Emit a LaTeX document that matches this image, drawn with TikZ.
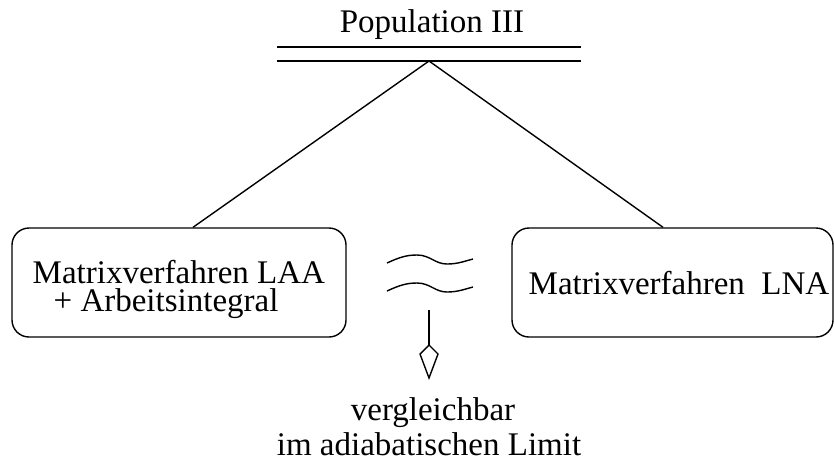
\documentclass[tikz,border=0pt]{standalone}
\usepackage{fontspec}
\setmainfont{Liberation Serif}
\usetikzlibrary{calc}
\tikzset{
    stufe/.style={draw, rounded corners=8.5pt, inner sep=0pt},
    txt/.style={inner sep=0pt, anchor=base west},
    welle/.style={line width=0.7pt},
}
\begin{document}
\fontsize{16.5}{20}\selectfont
\begin{tikzpicture}[x=0.5pt, y=-0.5pt, line width=0.7pt]
    \useasboundingbox (0,0) rectangle (834,468);

    \draw node (pop) [txt, anchor=base] at (432, 32) {Population III}
        node (laa) [stufe, minimum width=167pt, minimum height=54.5pt] at (179, 282.5) {}
        node (lna) [stufe, minimum width=160.5pt, minimum height=54.5pt] at (672.5, 282.5) {}
        node (laatxt) [txt, anchor=north west, align=left, font=\fontsize{16.5}{14}\selectfont]
            at (32, 260) {Matrixverfahren LAA\\\hspace{10.5pt}+ Arbeitsintegral}
        node (lna1) [txt] at (528, 294) {Matrixverfahren\ \ LNA}
        node (vgl1) [txt, anchor=base] at (433, 420) {vergleichbar}
        node (vgl2) [txt, anchor=base] at (429, 455) {im adiabatischen Limit}
        coordinate (bl) at (277, 47)
        coordinate (br) at (581, 47)
        coordinate (apex) at (429, 61)
        coordinate (schaft) at (429, 310)
        coordinate (spitze) at (429, 345);

    % doppelter Balken
    \draw (bl) -- (br)
        (bl |- apex) -- (br |- apex);

    \draw (apex) -- ($(laa.north)+(14,0)$);
    \draw (apex) -- ($(lna.north)+(-9.5,0)$);

    % ungefaehr gleich
    \foreach \dy in {0, 28}
        \draw[welle] (387, 263+\dy) .. controls (400, 257+\dy) and (407, 255+\dy) .. (417, 255+\dy)
            .. controls (430, 255+\dy) and (435, 264+\dy) .. (447, 264+\dy)
            .. controls (458, 264+\dy) and (465, 261+\dy) .. (473, 259+\dy);

    \draw (schaft) -- (spitze);
    \draw (spitze) -- (438, 354) -- (429, 378) -- (420, 354) -- cycle;
\end{tikzpicture}
\end{document}
